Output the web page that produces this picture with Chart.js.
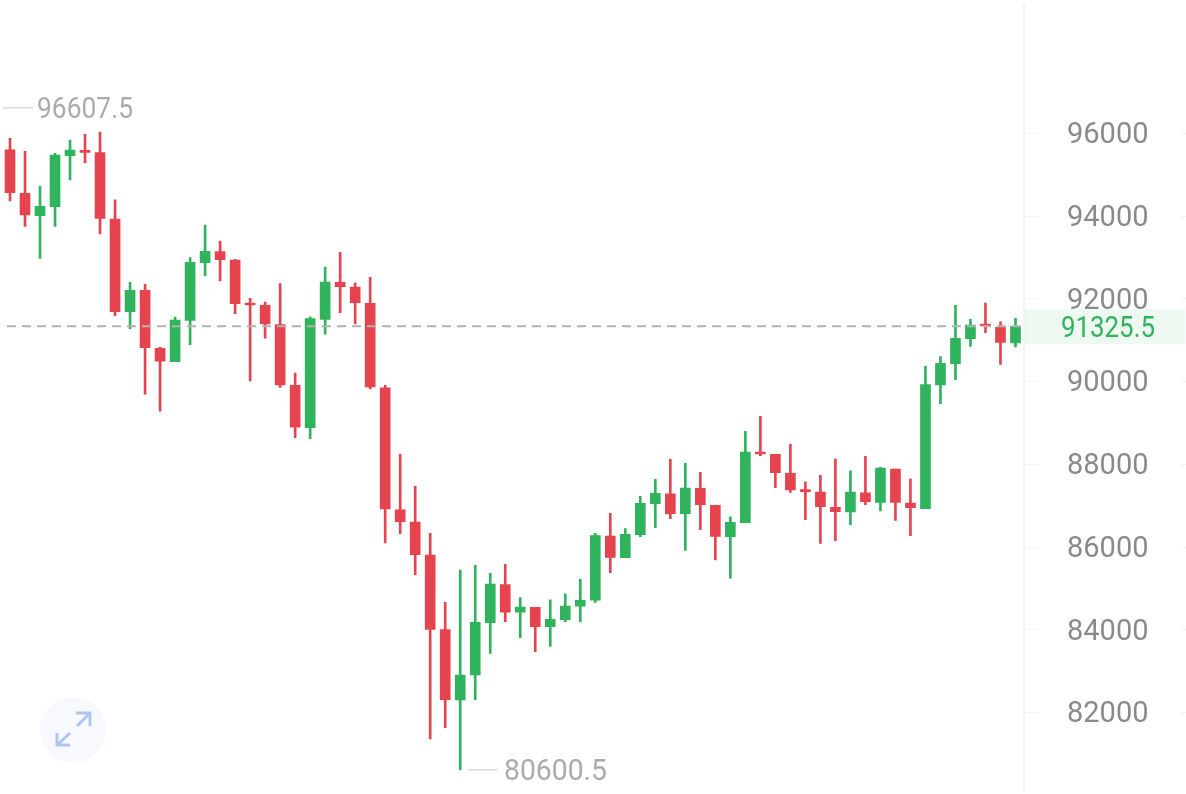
<!DOCTYPE html>
<html>
<head>
<meta charset="utf-8">
<title>Candles</title>
<script src="https://cdn.jsdelivr.net/npm/chart.js@4/dist/chart.umd.min.js"></script>
<style>
  html, body { margin: 0; padding: 0; background: #fff; }
  canvas { display: block; }
</style>
</head>
<body>
<canvas id="myChart" width="1186" height="794"></canvas>
<script>
// candle values
const opens = [95596, 94542, 94000, 94218, 95451, 95572, 95524, 93921, 91679, 92196,
  90794, 90470, 91471, 92864, 93130, 92929, 91882, 91834, 91365, 89899,
  88874, 91495, 92390, 92276, 91882, 89841, 86891, 86594, 85796, 83990,
  82290, 82894, 84159, 85078, 84411, 84531, 84062, 84232, 84556, 84701,
  86255, 85731, 86287, 87036, 87278, 86795, 87409, 86998, 86239, 86577,
  88270, 88231, 87772, 87360, 87319, 86949, 86836, 87302, 87070, 87876,
  87053, 86915, 89907, 90422, 91026, 91357, 91302, 90922];
const closes = [94556, 94017, 94228, 95468, 95589, 95533, 93937, 91679, 92196, 90809,
  90480, 91478, 92874, 93139, 92936, 91872, 91841, 91382, 89907, 88884,
  91510, 92397, 92284, 91897, 89858, 86908, 86601, 85803, 83999, 82297,
  82894, 84169, 85095, 84411, 84539, 84062, 84241, 84563, 84701, 86263,
  85740, 86297, 87046, 87288, 86795, 87416, 87012, 86248, 86587, 88287,
  88238, 87786, 87368, 87327, 86964, 86843, 87319, 87085, 87900, 87070,
  86940, 89914, 90431, 91036, 91357, 91333, 90939, 91325.5];
const highs = [95872, 95557, 94711, 95509, 95831, 95969, 96024, 94387, 92390, 92342,
  90818, 91551, 92985, 93775, 93389, 92946, 92003, 91914, 92356, 90197,
  91558, 92760, 93115, 92380, 92511, 89899, 88231, 87457, 86321, 84652,
  85433, 85547, 85354, 85571, 84764, 84531, 84715, 84860, 85208, 86321,
  86804, 86432, 87215, 87626, 88110, 88013, 87796, 87005, 86722, 88787,
  89150, 88231, 88473, 87568, 87723, 88117, 87834, 88183, 87917, 87876,
  87634, 90359, 90591, 91834, 91495, 91889, 91437, 91519];
const lows = [94356, 93744, 92970, 93744, 94864, 95282, 93558, 91582, 91268, 89682,
  89271, 90470, 90881, 92549, 92421, 91631, 90003, 91036, 89851, 88632,
  88608, 91133, 91655, 91382, 89810, 86086, 86311, 85320, 81347, 81620,
  80600.5, 82297, 83419, 84183, 83796, 83458, 83588, 84183, 84183, 84652,
  85368, 85731, 86239, 86456, 86674, 85905, 86408, 85675, 85233, 86577,
  88197, 87423, 87312, 86650, 86079, 86142, 86529, 87012, 86860, 86635,
  86263, 86915, 89454, 90035, 90842, 91171, 90407, 90825];
const candleLabels = opens.map((v, i) => String(i + 1));
const priceTicks = [82000, 84000, 86000, 88000, 90000, 92000, 94000, 96000];
const lastPrice = 91325.5;
const maxMark = 96607.5;
const minMark = 80600.5;

const red = '#e5444f';
const green = '#2fb35c';
const fontName = 'Roboto, sans-serif';

function candleColor(c) {
  const i = c.dataIndex;
  return closes[i] >= opens[i] ? green : red;
}

// backdrop pieces under the axis labels
const backPlugin = {
  id: 'backPlugin',
  beforeDraw(chart) {
    const c = chart.ctx;
    const y = chart.scales.y;
    const right = chart.chartArea.right;
    const py = y.getPixelForValue(lastPrice);
    c.save();
    c.fillStyle = '#eef9f2';
    c.fillRect(right + 1, py - 17, 1184 - right, 35);
    c.fillStyle = '#f3f3f3';
    c.fillRect(right, 4, 2, 786);
    priceTicks.forEach(t => {
      const ty = Math.round(y.getPixelForValue(t));
      c.fillRect(right + 2, ty, 13, 1);
      c.fillRect(1180, ty, 6, 1);
    });
    c.restore();
  },
  afterDraw(chart) {
    const c = chart.ctx;
    const y = chart.scales.y;
    const right = chart.chartArea.right;
    const py = y.getPixelForValue(lastPrice);
    c.save();
    // last price line and label
    c.strokeStyle = '#b3b3b3';
    c.lineWidth = 2;
    c.setLineDash([9, 6]);
    c.beginPath();
    c.moveTo(7, py);
    c.lineTo(right, py);
    c.stroke();
    c.setLineDash([]);
    c.font = '29px ' + fontName;
    c.textBaseline = 'middle';
    c.textAlign = 'left';
    c.fillStyle = green;
    c.fillText(lastPrice.toFixed(1), 1061, py + 3, 94);
    // high and low marks
    c.strokeStyle = '#c8c8c8';
    c.lineWidth = 1;
    c.fillStyle = '#ababab';
    const hy = y.getPixelForValue(maxMark);
    c.beginPath();
    c.moveTo(3, hy);
    c.lineTo(33, hy);
    c.stroke();
    c.fillText(maxMark.toFixed(1), 37, hy + 3, 96);
    const ly = y.getPixelForValue(minMark);
    c.beginPath();
    c.moveTo(468, ly);
    c.lineTo(497, ly);
    c.stroke();
    c.fillText(minMark.toFixed(1), 504, ly + 3, 103);
    // expand button
    c.fillStyle = '#f7f9fe';
    c.beginPath();
    c.arc(73, 730, 33, 0, Math.PI * 2);
    c.fill();
    c.strokeStyle = '#afc6ef';
    c.lineWidth = 3;
    c.beginPath();
    c.moveTo(76, 713); c.lineTo(90, 713); c.lineTo(90, 726);
    c.moveTo(89, 714); c.lineTo(77, 726);
    c.moveTo(57, 733); c.lineTo(57, 745); c.lineTo(70, 745);
    c.moveTo(58, 744); c.lineTo(70, 733);
    c.stroke();
    c.restore();
  }
};

const ctx = document.getElementById('myChart');
new Chart(ctx, {
  type: 'bar',
  data: {
    labels: candleLabels,
    datasets: [{
      label: 'body',
      data: opens.map((o, i) => [o, closes[i]]),
      backgroundColor: candleColor,
      barThickness: 10,
      minBarLength: 2,
      grouped: false
    }, {
      label: 'wick',
      data: lows.map((l, i) => [l, highs[i]]),
      backgroundColor: candleColor,
      barThickness: 2,
      grouped: false
    }]
  },
  options: {
    responsive: false,
    animation: false,
    layout: { padding: { left: 2.5 } },
    plugins: {
      legend: { display: false },
      tooltip: { enabled: false }
    },
    scales: {
      x: { display: false },
      y: {
        position: 'right',
        min: 80017,
        max: 99216,
        afterFit(scale) {
          // tick padding would otherwise shrink the plot height too
          scale.width = 163;
          scale.paddingTop = 0;
          scale.paddingBottom = 0;
        },
        afterBuildTicks(scale) { scale.ticks = priceTicks.map(v => ({ value: v })); },
        grid: { display: false, drawTicks: false },
        border: { display: false },
        ticks: {
          padding: 44,
          labelOffset: 3,
          color: '#8a8a8a',
          font: { family: fontName, size: 29 },
          callback: v => String(v)
        }
      }
    }
  },
  plugins: [backPlugin]
});
</script>
</body>
</html>
